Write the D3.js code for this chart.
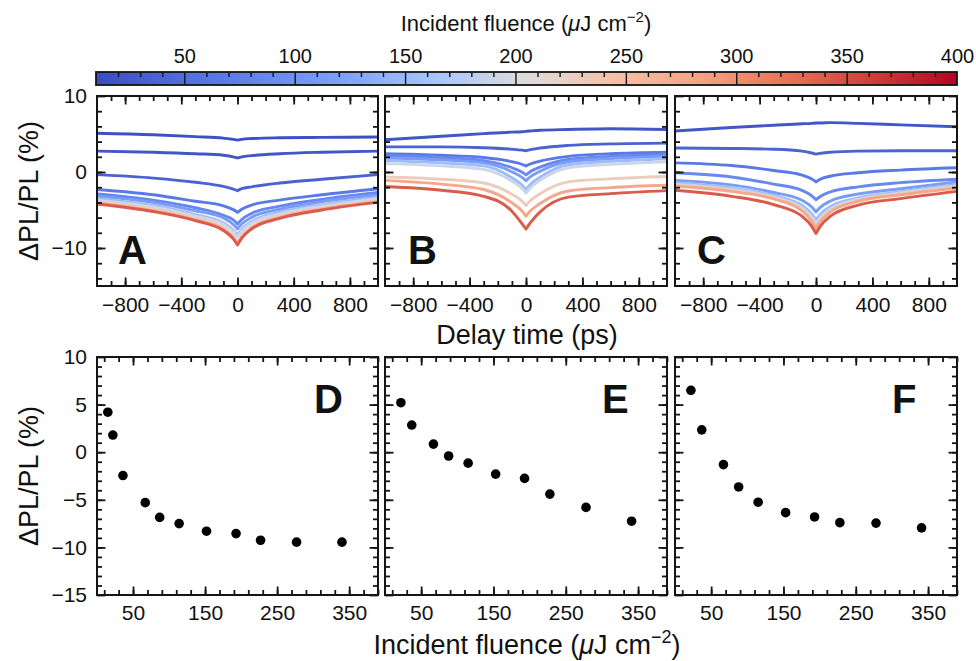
<!DOCTYPE html>
<html>
<head>
<meta charset="utf-8">
<script src="https://cdn.jsdelivr.net/npm/d3@7"></script>
<style>
  body { margin: 0; background: #fff; }
  svg text { font-family: "Liberation Sans", Arial, Helvetica, sans-serif; fill: #111; }
</style>
</head>
<body>
<svg id="fig" width="976" height="661"></svg>
<script>
// ---- data ----
const delayTimes = [-1000, -600, -300, -100, -30, 0, 30, 100, 300, 600, 1000]

const fluenceA = [15, 22, 36, 67, 87, 114, 152, 193, 227, 277, 340]
const fluenceBC = [22, 37, 67, 88, 115, 153, 193, 228, 278, 341]

// dPL/PL (%) per fluence, sampled at delayTimes
const curvesA = [
  [5.1, 4.9, 4.65, 4.45, 4.3, 4.2, 4.3, 4.4, 4.5, 4.55, 4.6],
  [2.75, 2.6, 2.4, 2.2, 2.0, 1.85, 2.0, 2.15, 2.4, 2.6, 2.75],
  [-0.35, -0.8, -1.35, -1.9, -2.25, -2.45, -2.2, -1.95, -1.45, -0.95, -0.35],
  [-2.3, -3.0, -3.85, -4.45, -4.95, -5.3, -4.9, -4.35, -3.7, -3.0, -2.2],
  [-2.9, -3.7, -4.7, -5.7, -6.3, -6.85, -6.25, -5.45, -4.5, -3.6, -2.7],
  [-3.2, -4.0, -5.1, -6.05, -6.9, -7.5, -6.85, -5.95, -4.9, -3.9, -3.0],
  [-3.5, -4.4, -5.6, -6.7, -7.65, -8.3, -7.55, -6.5, -5.3, -4.3, -3.3],
  [-3.7, -4.6, -5.8, -6.9, -7.85, -8.55, -7.8, -6.7, -5.5, -4.5, -3.5],
  [-3.9, -4.9, -6.1, -7.35, -8.45, -9.25, -8.4, -7.2, -5.8, -4.75, -3.75],
  [-4.1, -5.1, -6.3, -7.55, -8.65, -9.45, -8.6, -7.4, -6.0, -4.9, -3.9],
  [-4.2, -5.2, -6.4, -7.7, -8.8, -9.6, -8.7, -7.5, -6.1, -5.0, -4.0]
]
const curvesB = [
  [4.25, 4.7, 5.05, 5.25, 5.3, 5.35, 5.4, 5.5, 5.6, 5.7, 5.6],
  [3.3, 3.3, 3.2, 3.0, 2.88, 2.8, 2.94, 3.15, 3.5, 3.7, 3.8],
  [2.4, 2.2, 1.9, 1.35, 1.02, 0.8, 1.05, 1.43, 2.05, 2.4, 2.6],
  [2.1, 1.9, 1.5, 0.56, 0.0, -0.38, 0.03, 0.64, 1.65, 2.05, 2.3],
  [1.85, 1.6, 1.2, 0.03, -0.68, -1.15, -0.65, 0.1, 1.35, 1.75, 2.05],
  [1.5, 1.2, 0.8, -0.75, -1.68, -2.3, -1.65, -0.68, 0.95, 1.4, 1.75],
  [1.1, 0.8, 0.35, -1.2, -2.14, -2.76, -2.1, -1.1, 0.55, 1.0, 1.35],
  [-0.65, -0.95, -1.45, -2.93, -3.8, -4.4, -3.78, -2.85, -1.3, -0.9, -0.6],
  [-1.1, -1.6, -2.3, -4.05, -5.1, -5.8, -5.14, -4.15, -2.5, -2.05, -1.75],
  [-1.9, -2.4, -3.2, -5.15, -6.75, -7.5, -6.7, -5.25, -3.3, -2.85, -2.45]
]
const curvesC = [
  [5.4, 5.85, 6.15, 6.35, 6.4, 6.45, 6.45, 6.5, 6.4, 6.2, 5.95],
  [3.15, 3.1, 3.0, 2.75, 2.5, 2.35, 2.45, 2.6, 2.75, 2.8, 2.8],
  [1.2, 0.85, 0.2, -0.4, -0.93, -1.3, -0.95, -0.56, -0.1, 0.25, 0.55],
  [-0.1, -0.65, -1.6, -2.42, -3.14, -3.65, -3.22, -2.63, -1.95, -1.4, -0.95],
  [-1.1, -1.7, -2.7, -3.72, -4.61, -5.25, -4.66, -3.84, -2.9, -2.2, -1.3],
  [-1.45, -2.1, -3.1, -4.38, -5.5, -6.3, -5.58, -4.56, -3.4, -2.6, -1.65],
  [-1.6, -2.3, -3.3, -4.7, -5.93, -6.8, -6.0, -4.88, -3.6, -2.75, -1.85],
  [-1.75, -2.45, -3.45, -5.0, -6.34, -7.3, -6.41, -5.17, -3.75, -2.9, -2.0],
  [-1.85, -2.55, -3.55, -5.11, -6.48, -7.45, -6.55, -5.29, -3.85, -3.0, -2.1],
  [-2.4, -3.2, -4.3, -5.82, -7.15, -8.1, -7.16, -5.85, -4.35, -3.5, -2.55]
]

// value at zero delay vs fluence
const peakD = [4.2, 1.8, -2.45, -5.3, -6.85, -7.5, -8.3, -8.55, -9.25, -9.45, -9.45]
const peakE = [5.2, 2.85, 0.85, -0.4, -1.15, -2.3, -2.75, -4.4, -5.8, -7.25]
const peakF = [6.5, 2.35, -1.3, -3.65, -5.25, -6.35, -6.8, -7.4, -7.45, -7.95]

const colorbarTicks = [50, 100, 150, 200, 250, 300, 350, 400]
const delayTicks = [-800, -400, 0, 400, 800]
const fluenceTicks = [50, 150, 250, 350]
const topYTicks = [-10, 0, 10]
const bottomYTicks = [-15, -10, -5, 0, 5, 10]

// coolwarm, sampled at tenths
const coolwarm = ['#3b4cc0', '#516ddb', '#6788ee', '#83a5fa', '#aac7fd', '#dddcdc',
                  '#f4c2a8', '#f6a385', '#e7745b', '#cc403a', '#b40426']

// ---- layout ----
const svg = d3.select('#fig')
const cols = [[97, 378], [385, 667], [675, 957]]
const topRow = [96, 286]
const botRow = [357, 595]
const tickFont = 21
const ink = '#151515'

const color = d3.scaleLinear()
  .domain(coolwarm.map((c, i) => 10 + i * 39))
  .range(coolwarm)
  .interpolate(d3.interpolateRgb)

// ---- colorbar ----
const cbX = d3.scaleLinear().domain([10, 400]).range([96, 957])
const cbY = 72, cbH = 13
const defs = svg.append('defs')
const grad = defs.append('linearGradient').attr('id', 'cbgrad')
d3.range(0, 1.0001, 0.02).forEach(f => {
  grad.append('stop').attr('offset', f).attr('stop-color', color(10 + f * 390))
})
svg.append('rect').attr('x', 96).attr('y', cbY).attr('width', 861).attr('height', cbH)
  .attr('fill', 'url(#cbgrad)')
// minor ticks hang from the top edge, majors cross the bar
const cbMinor = svg.append('g').attr('transform', `translate(0,${cbY})`)
  .call(d3.axisBottom(cbX).tickValues(d3.range(20, 400, 10).filter(v => v % 50 !== 0))
    .tickSize(5).tickFormat(''))
const cbMajor = svg.append('g').attr('transform', `translate(0,${cbY})`)
  .call(d3.axisBottom(cbX).tickValues(colorbarTicks.slice(0, -1)).tickSize(cbH).tickFormat(''))
;[cbMinor, cbMajor].forEach(a => {
  a.select('.domain').remove()
  a.selectAll('line').attr('stroke', ink).attr('stroke-width', 1.4)
})
svg.append('rect').attr('x', 96).attr('y', cbY).attr('width', 861).attr('height', cbH)
  .attr('fill', 'none').attr('stroke', ink).attr('stroke-width', 1.8)
const cbAxis = svg.append('g').attr('transform', `translate(0,${cbY})`)
  .call(d3.axisTop(cbX).tickValues(colorbarTicks).tickSize(0).tickPadding(9))
cbAxis.select('.domain').remove()
cbAxis.selectAll('text').attr('font-size', 20).attr('font-family', null)

const cbTitle = svg.append('text').attr('x', 526).attr('y', 31)
  .attr('text-anchor', 'middle').attr('font-size', 22)
cbTitle.append('tspan').text('Incident fluence (')
cbTitle.append('tspan').attr('font-style', 'italic').text('μ')
cbTitle.append('tspan').text('J cm')
cbTitle.append('tspan').attr('font-size', 15).attr('dy', -9).text('−2')
cbTitle.append('tspan').attr('dy', 9).text(')')

// ---- panel frame with inward ticks on all four sides ----
function frame(g, x, y, xMajor, xMinor, yMajor, yMinor, showY, xPad) {
  const [x0, x1] = x.range()
  const [y1, y0] = y.range()
  const sides = [
    [d3.axisBottom, x, `translate(0,${y1})`, xMajor, xMinor, true, xPad],
    [d3.axisTop, x, `translate(0,${y0})`, xMajor, xMinor, false, 10],
    [d3.axisLeft, y, `translate(${x0},0)`, yMajor, yMinor, showY, 10],
    [d3.axisRight, y, `translate(${x1},0)`, yMajor, yMinor, false, 10]
  ]
  sides.forEach(([fn, scale, tr, major, minor, label, pad]) => {
    const gMinor = g.append('g').attr('transform', tr)
      .call(fn(scale).tickValues(minor).tickSizeInner(-5).tickSizeOuter(0).tickFormat(''))
    const majorAxis = fn(scale).tickValues(major).tickSizeInner(-8.5).tickSizeOuter(0).tickPadding(pad)
    if (!label) majorAxis.tickFormat('')
    const gMajor = g.append('g').attr('transform', tr).call(majorAxis)
    gMajor.selectAll('text').attr('font-size', tickFont).attr('font-family', null)
    ;[gMinor, gMajor].forEach(a => {
      a.select('.domain').remove()
      a.selectAll('.tick line').attr('stroke', ink).attr('stroke-width', 1.8)
    })
  })
  g.append('rect').attr('x', x0).attr('y', y0).attr('width', x1 - x0).attr('height', y1 - y0)
    .attr('fill', 'none').attr('stroke', ink).attr('stroke-width', 2)
}

// ---- top row: transients ----
const topData = [curvesA, curvesB, curvesC]
const topFluence = [fluenceA, fluenceBC, fluenceBC]
const topLetters = ['A', 'B', 'C']
const topLetterX = [118, 408, 697]

topData.forEach((curves, p) => {
  const x = d3.scaleLinear().domain([-1000, 1000]).range(cols[p])
  const y = d3.scaleLinear().domain([-15, 10]).range([topRow[1], topRow[0]])
  const g = svg.append('g')
  const clipId = 'clipTop' + p
  defs.append('clipPath').attr('id', clipId).append('rect')
    .attr('x', cols[p][0]).attr('y', topRow[0])
    .attr('width', cols[p][1] - cols[p][0]).attr('height', topRow[1] - topRow[0])

  // each side of t = 0 is drawn as its own smooth run so the cusp stays sharp
  const line = d3.line().x(d => x(d[0])).y(d => y(d[1])).curve(d3.curveMonotoneX)
  g.append('g').attr('clip-path', `url(#${clipId})`)
    .selectAll('path').data(curves).join('path')
    .attr('d', vals => {
      const pts = delayTimes.map((t, i) => [t, vals[i]])
      return line(pts.filter(q => q[0] <= 0)) + line(pts.filter(q => q[0] >= 0))
    })
    .attr('fill', 'none')
    .attr('stroke', (vals, i) => color(topFluence[p][i]))
    .attr('stroke-width', 2.9)
    .attr('stroke-linecap', 'round')
    .attr('stroke-linejoin', 'round')

  frame(g, x, y, delayTicks, d3.range(-900, 1000, 100), topYTicks, d3.range(-14, 10, 2), p === 0, 11)

  g.append('text').attr('x', topLetterX[p]).attr('y', 264)
    .attr('font-size', 40).attr('font-weight', 'bold').text(topLetters[p])
})

// ---- bottom row: value at zero delay vs fluence ----
const botData = [[fluenceA, peakD], [fluenceBC, peakE], [fluenceBC, peakF]]
const botLetters = ['D', 'E', 'F']

botData.forEach(([fl, vals], p) => {
  const x = d3.scaleLinear().domain([0, 390]).range(cols[p])
  const y = d3.scaleLinear().domain([-15, 10]).range([botRow[1], botRow[0]])
  const g = svg.append('g')
  frame(g, x, y, fluenceTicks, d3.range(10, 391, 20), bottomYTicks, d3.range(-14, 10, 1), p === 0, 10)

  g.append('g').selectAll('circle').data(fl).join('circle')
    .attr('cx', d => x(d))
    .attr('cy', (d, i) => y(vals[i]))
    .attr('r', 4.8)
    .attr('fill', '#000')

  g.append('text').attr('x', cols[p][0] + 217).attr('y', 413)
    .attr('font-size', 40).attr('font-weight', 'bold').text(botLetters[p])
})

// ---- axis titles ----
svg.append('text').attr('x', 527).attr('y', 344).attr('text-anchor', 'middle')
  .attr('font-size', 27).text('Delay time (ps)')

const xTitle = svg.append('text').attr('x', 527).attr('y', 654)
  .attr('text-anchor', 'middle').attr('font-size', 27)
xTitle.append('tspan').text('Incident fluence (')
xTitle.append('tspan').attr('font-style', 'italic').text('μ')
xTitle.append('tspan').text('J cm')
xTitle.append('tspan').attr('font-size', 18).attr('dy', -11).text('−2')
xTitle.append('tspan').attr('dy', 11).text(')')

;[topRow, botRow].forEach(row => {
  svg.append('text')
    .attr('transform', `translate(38,${(row[0] + row[1]) / 2}) rotate(-90)`)
    .attr('text-anchor', 'middle').attr('font-size', 27)
    .text('ΔPL/PL (%)')
})
</script>
</body>
</html>
